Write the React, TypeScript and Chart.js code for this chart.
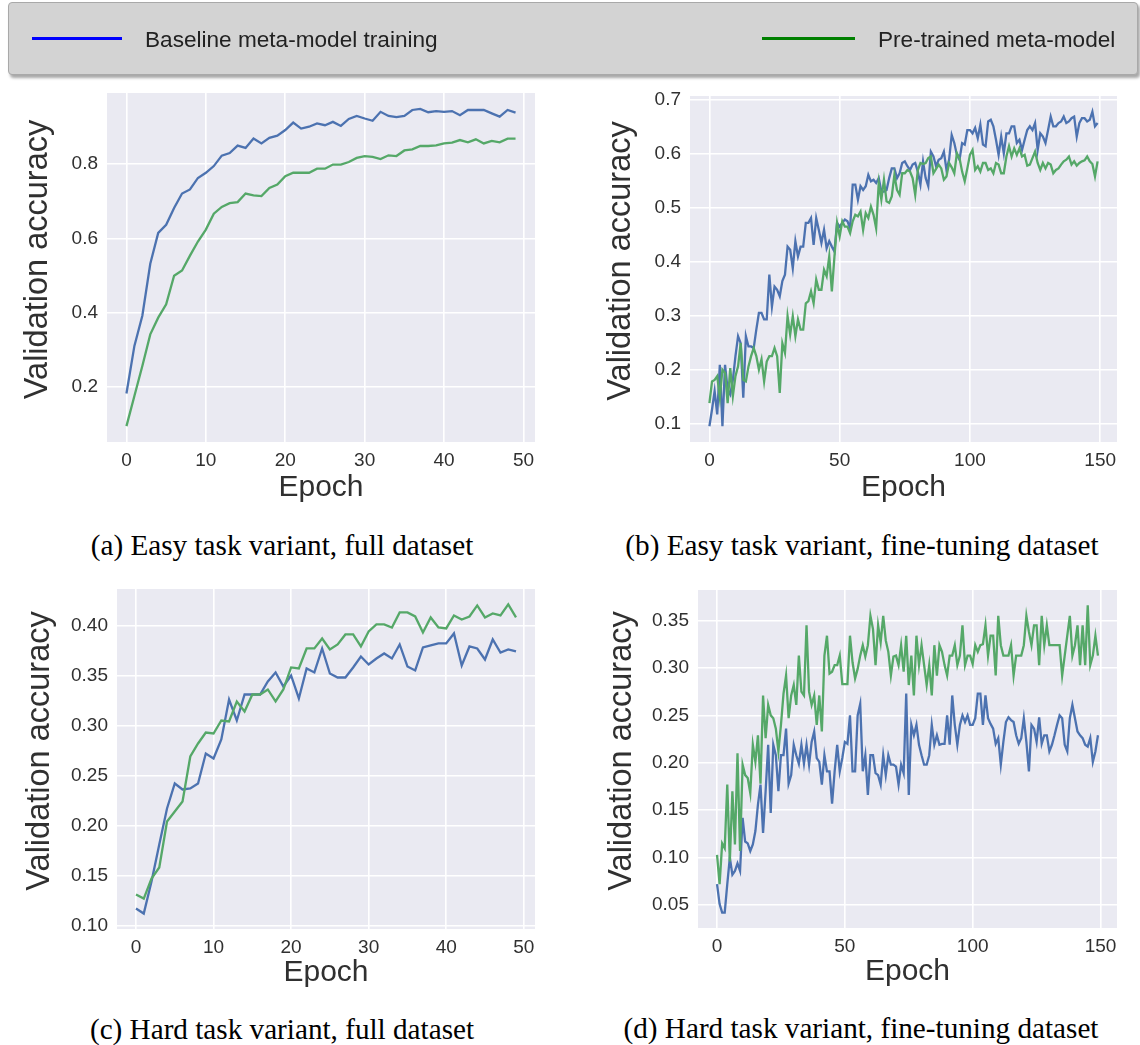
import React, { useEffect, useRef } from 'react';
import { Chart, registerables } from 'chart.js';

Chart.register(...registerables);

const FONT = "'Liberation Sans', Arial, Helvetica, sans-serif";
const SERIF = "'Liberation Serif', 'Times New Roman', serif";
const BLUE = '#4C72B0';
const GREEN = '#55A868';
const TEXT = '#303030';

// ---- data ----
const seriesLabels = ['Baseline meta-model training', 'Pre-trained meta-model'];
const xLabel = 'Epoch';
const yLabel = 'Validation accuracy';

const xTicksFull = [0, 10, 20, 30, 40, 50];
const xTicksFine = [0, 50, 100, 150];
const yTicksEasyFull = [0.2, 0.4, 0.6, 0.8];
const yTicksEasyFine = [0.1, 0.2, 0.3, 0.4, 0.5, 0.6, 0.7];
const yTicksHardFull = [0.1, 0.15, 0.2, 0.25, 0.3, 0.35, 0.4];
const yTicksHardFine = [0.05, 0.1, 0.15, 0.2, 0.25, 0.3, 0.35];

const easyFullBaseline = [0.183,0.311,0.392,0.532,0.615,0.637,0.682,0.721,0.732,0.763,0.777,0.795,0.823,0.830,0.850,0.844,0.869,0.856,0.871,0.877,0.892,0.912,0.896,0.901,0.910,0.905,0.914,0.903,0.922,0.930,0.923,0.917,0.941,0.930,0.927,0.930,0.946,0.949,0.940,0.943,0.941,0.943,0.932,0.946,0.946,0.946,0.937,0.928,0.946,0.939];
const easyFullPretrained = [0.095,0.176,0.257,0.342,0.387,0.423,0.500,0.514,0.554,0.592,0.624,0.667,0.685,0.695,0.698,0.721,0.716,0.714,0.736,0.745,0.768,0.777,0.777,0.777,0.788,0.788,0.799,0.799,0.806,0.817,0.822,0.820,0.814,0.824,0.822,0.837,0.840,0.849,0.849,0.851,0.856,0.858,0.865,0.859,0.867,0.856,0.863,0.859,0.869,0.869];

const easyFineBaseline = [
  0.095,0.126,0.160,0.117,0.209,0.095,0.209,0.163,0.154,0.181,
  0.225,0.262,0.249,0.148,0.262,0.243,0.243,0.240,0.274,0.305,
  0.305,0.293,0.293,0.376,0.317,0.354,0.348,0.336,0.364,0.376,
  0.428,0.422,0.388,0.438,0.410,0.428,0.428,0.472,0.472,0.481,
  0.431,0.481,0.459,0.435,0.459,0.425,0.438,0.428,0.419,0.472,
  0.465,0.472,0.478,0.475,0.462,0.543,0.543,0.515,0.540,0.533,
  0.540,0.561,0.549,0.552,0.546,0.555,0.530,0.530,0.533,0.555,
  0.573,0.573,0.555,0.564,0.583,0.586,0.577,0.570,0.580,0.583,
  0.567,0.543,0.586,0.555,0.540,0.604,0.595,0.577,0.589,0.592,
  0.604,0.570,0.589,0.635,0.620,0.598,0.589,0.620,0.617,0.644,
  0.644,0.638,0.648,0.629,0.654,0.617,0.614,0.660,0.663,0.651,
  0.626,0.598,0.632,0.601,0.638,0.638,0.651,0.651,0.620,0.626,
  0.607,0.626,0.644,0.651,0.644,0.657,0.607,0.638,0.632,0.620,
  0.644,0.669,0.651,0.651,0.657,0.660,0.669,0.657,0.660,0.666,
  0.669,0.632,0.657,0.666,0.666,0.660,0.663,0.678,0.651,0.657,
];
const easyFinePretrained = [
  0.138,0.178,0.181,0.188,0.148,0.200,0.194,0.138,0.203,0.151,
  0.188,0.206,0.249,0.181,0.178,0.206,0.225,0.240,0.225,0.200,
  0.219,0.178,0.215,0.225,0.225,0.240,0.225,0.157,0.249,0.231,
  0.299,0.265,0.299,0.262,0.293,0.274,0.274,0.323,0.327,0.345,
  0.323,0.367,0.348,0.348,0.385,0.373,0.410,0.345,0.410,0.472,
  0.447,0.475,0.465,0.465,0.453,0.475,0.487,0.484,0.493,0.459,
  0.490,0.481,0.502,0.487,0.462,0.546,0.515,0.552,0.512,0.509,
  0.521,0.561,0.533,0.524,0.564,0.564,0.570,0.567,0.555,0.524,
  0.570,0.583,0.581,0.583,0.592,0.595,0.564,0.572,0.580,0.573,
  0.552,0.558,0.583,0.575,0.564,0.601,0.592,0.567,0.549,0.573,
  0.598,0.607,0.570,0.577,0.567,0.583,0.583,0.570,0.573,0.564,
  0.583,0.580,0.564,0.564,0.595,0.614,0.595,0.610,0.598,0.610,
  0.595,0.598,0.578,0.580,0.592,0.604,0.583,0.570,0.583,0.573,
  0.583,0.580,0.564,0.570,0.573,0.580,0.586,0.589,0.595,0.580,
  0.586,0.578,0.583,0.586,0.588,0.595,0.586,0.581,0.558,0.586,
];

const hardFullBaseline = [0.117,0.112,0.144,0.181,0.217,0.242,0.236,0.237,0.242,0.272,0.267,0.286,0.326,0.305,0.331,0.331,0.331,0.344,0.353,0.339,0.350,0.327,0.357,0.353,0.377,0.352,0.348,0.348,0.358,0.369,0.361,0.367,0.372,0.367,0.381,0.359,0.355,0.378,0.380,0.382,0.382,0.392,0.360,0.379,0.377,0.366,0.386,0.373,0.376,0.374];
const hardFullPretrained = [0.131,0.127,0.147,0.158,0.204,0.214,0.224,0.269,0.282,0.293,0.292,0.305,0.304,0.324,0.314,0.331,0.331,0.336,0.324,0.336,0.358,0.357,0.377,0.377,0.387,0.376,0.381,0.391,0.391,0.379,0.394,0.401,0.401,0.398,0.413,0.413,0.409,0.393,0.408,0.398,0.397,0.410,0.406,0.409,0.420,0.408,0.412,0.410,0.421,0.408];

const hardFineBaseline = [
  0.072,0.051,0.042,0.042,0.072,0.100,0.082,0.086,0.094,0.086,
  0.142,0.117,0.115,0.107,0.114,0.128,0.156,0.177,0.126,0.170,
  0.219,0.147,0.219,0.208,0.170,0.208,0.208,0.236,0.178,0.187,
  0.219,0.208,0.199,0.219,0.199,0.219,0.198,0.222,0.233,0.205,
  0.201,0.177,0.208,0.191,0.191,0.157,0.191,0.219,0.191,0.205,
  0.222,0.220,0.250,0.191,0.191,0.250,0.262,0.191,0.208,0.166,
  0.208,0.208,0.189,0.187,0.177,0.208,0.187,0.208,0.198,0.198,
  0.196,0.177,0.198,0.189,0.273,0.166,0.240,0.229,0.240,0.219,
  0.208,0.198,0.198,0.208,0.240,0.219,0.229,0.219,0.220,0.220,
  0.250,0.219,0.271,0.240,0.219,0.240,0.250,0.243,0.250,0.240,
  0.240,0.247,0.273,0.273,0.240,0.271,0.247,0.241,0.236,0.220,
  0.226,0.198,0.222,0.243,0.248,0.245,0.243,0.229,0.220,0.226,
  0.247,0.222,0.191,0.240,0.236,0.222,0.248,0.220,0.229,0.229,
  0.212,0.219,0.229,0.240,0.250,0.247,0.219,0.212,0.247,0.261,
  0.247,0.233,0.229,0.226,0.219,0.217,0.226,0.201,0.212,0.229,
];
const hardFinePretrained = [
  0.103,0.072,0.115,0.110,0.177,0.096,0.170,0.114,0.210,0.107,
  0.198,0.187,0.184,0.168,0.219,0.201,0.229,0.178,0.271,0.226,
  0.261,0.250,0.247,0.236,0.212,0.240,0.273,0.292,0.247,0.271,
  0.282,0.261,0.313,0.275,0.271,0.345,0.275,0.261,0.271,0.240,
  0.271,0.233,0.313,0.334,0.294,0.296,0.303,0.303,0.313,0.283,
  0.283,0.283,0.334,0.306,0.289,0.299,0.313,0.324,0.312,0.324,
  0.355,0.341,0.303,0.345,0.327,0.355,0.329,0.317,0.292,0.312,
  0.313,0.303,0.324,0.296,0.334,0.282,0.313,0.271,0.334,0.303,
  0.324,0.303,0.282,0.303,0.271,0.324,0.292,0.324,0.317,0.303,
  0.292,0.313,0.313,0.324,0.303,0.313,0.345,0.303,0.313,0.313,
  0.304,0.324,0.317,0.324,0.325,0.345,0.313,0.334,0.334,0.292,
  0.355,0.324,0.313,0.313,0.313,0.324,0.292,0.313,0.313,0.313,
  0.324,0.355,0.338,0.324,0.345,0.345,0.303,0.355,0.324,0.345,
  0.324,0.324,0.324,0.324,0.324,0.292,0.313,0.334,0.355,0.313,
  0.324,0.345,0.303,0.345,0.303,0.366,0.303,0.313,0.334,0.313,
];

const captions = [
  '(a) Easy task variant, full dataset',
  '(b) Easy task variant, fine-tuning dataset',
  '(c) Hard task variant, full dataset',
  '(d) Hard task variant, fine-tuning dataset',
];

// ---- layout (page pixels) ----
type PanelSpec = {
  base: number[]; pre: number[]; xTicks: number[]; yTicks: number[]; yDigits: number;
  left: number; width: number; bottom: number;
  plotLeft: number; plotTop: number; plotRight: number; plotBottom: number;
  yTitleX: number; xTitleY: number; caption: string; capX: number; capY: number;
};

const panels: PanelSpec[] = [
  { base: easyFullBaseline, pre: easyFullPretrained, xTicks: xTicksFull, yTicks: yTicksEasyFull, yDigits: 1,
    left: 0, width: 560, bottom: 510, plotLeft: 107, plotTop: 93, plotRight: 535, plotBottom: 442,
    yTitleX: 38, xTitleY: 488, caption: captions[0], capX: 282, capY: 545 },
  { base: easyFineBaseline, pre: easyFinePretrained, xTicks: xTicksFine, yTicks: yTicksEasyFine, yDigits: 1,
    left: 580, width: 560, bottom: 510, plotLeft: 690, plotTop: 96, plotRight: 1117, plotBottom: 442,
    yTitleX: 621, xTitleY: 488, caption: captions[1], capX: 862, capY: 545 },
  { base: hardFullBaseline, pre: hardFullPretrained, xTicks: xTicksFull, yTicks: yTicksHardFull, yDigits: 2,
    left: 0, width: 560, bottom: 1000, plotLeft: 117, plotTop: 589, plotRight: 535, plotBottom: 929,
    yTitleX: 40, xTitleY: 973, caption: captions[2], capX: 282, capY: 1029 },
  { base: hardFineBaseline, pre: hardFinePretrained, xTicks: xTicksFine, yTicks: yTicksHardFine, yDigits: 2,
    left: 580, width: 560, bottom: 1000, plotLeft: 698, plotTop: 590, plotRight: 1117, plotBottom: 928,
    yTitleX: 622, xTitleY: 972, caption: captions[3], capX: 861, capY: 1028 },
];

const bgPlugin = {
  id: 'plotBg',
  beforeDraw(chart: any) {
    const { ctx, chartArea } = chart;
    if (!chartArea) return;
    ctx.save();
    ctx.fillStyle = '#EAEAF2';
    ctx.fillRect(chartArea.left, chartArea.top, chartArea.right - chartArea.left, chartArea.bottom - chartArea.top);
    ctx.restore();
  },
};

const TICK_SIZE = 19;
const XTITLE_SIZE = 30;
const YTITLE_SIZE = 32.5;
const YTITLE_SHIFT = -8;
const TOP_GAP = 30;

function Panel({ p }: { p: PanelSpec }) {
  const ref = useRef<HTMLCanvasElement>(null);
  const top = p.plotTop - TOP_GAP;
  const height = p.bottom - top;
  useEffect(() => {
    if (!ref.current) return;
    const n = p.base.length;
    const all = [...p.base, ...p.pre];
    const lo = Math.min(...all);
    const hi = Math.max(...all);
    const ym = (hi - lo) * 0.05;
    const xm = (n - 1) * 0.05;
    const padRight = p.left + p.width - p.plotRight;
    const yWidth = p.plotLeft - p.left;
    const xHeight = p.bottom - p.plotBottom;
    const xTitlePad = p.bottom - p.xTitleY - XTITLE_SIZE / 2;

    const yTitlePlugin = {
      id: 'yTitle',
      afterDraw(chart: any) {
        const { ctx, chartArea } = chart;
        ctx.save();
        ctx.translate(p.yTitleX - p.left, (chartArea.top + chartArea.bottom) / 2 + YTITLE_SHIFT);
        ctx.rotate(-Math.PI / 2);
        ctx.font = `${YTITLE_SIZE}px ${FONT}`;
        ctx.fillStyle = TEXT;
        ctx.textAlign = 'center';
        ctx.textBaseline = 'middle';
        ctx.fillText(yLabel, 0, 0);
        ctx.restore();
      },
    };

    const chart = new Chart(ref.current, {
      type: 'line',
      data: {
        datasets: [
          { label: seriesLabels[0], data: p.base.map((v, i) => ({ x: i, y: v })), borderColor: BLUE,
            backgroundColor: BLUE, borderWidth: 2.3, pointRadius: 0, tension: 0, order: 1, fill: false },
          { label: seriesLabels[1], data: p.pre.map((v, i) => ({ x: i, y: v })), borderColor: GREEN,
            backgroundColor: GREEN, borderWidth: 2.3, pointRadius: 0, tension: 0, order: 0, fill: false },
        ],
      },
      options: {
        animation: false,
        responsive: false,
        events: [],
        layout: { padding: { top: TOP_GAP, right: padRight, left: 0, bottom: 0 } },
        plugins: { legend: { display: false }, tooltip: { enabled: false } },
        scales: {
          x: {
            type: 'linear', min: -xm, max: n - 1 + xm,
            afterBuildTicks: (s: any) => { s.ticks = p.xTicks.map((v) => ({ value: v })); },
            afterFit: (s: any) => { s.height = xHeight; },
            grid: { color: '#ffffff', lineWidth: 1.6, drawTicks: false },
            border: { display: false },
            ticks: { padding: 7, autoSkip: false, maxRotation: 0, color: TEXT,
              font: { family: FONT, size: TICK_SIZE }, callback: (v: any) => String(v) },
            title: { display: true, text: xLabel, color: TEXT,
              font: { family: FONT, size: XTITLE_SIZE, lineHeight: 1 }, padding: { top: 0, bottom: xTitlePad } },
          },
          y: {
            type: 'linear', min: lo - ym, max: hi + ym,
            afterBuildTicks: (s: any) => { s.ticks = p.yTicks.map((v) => ({ value: v })); },
            afterFit: (s: any) => { s.width = yWidth; },
            grid: { color: '#ffffff', lineWidth: 1.6, drawTicks: false },
            border: { display: false },
            ticks: { padding: 9, autoSkip: false, color: TEXT,
              font: { family: FONT, size: TICK_SIZE }, callback: (v: any) => Number(v).toFixed(p.yDigits) },
            title: { display: false },
          },
        },
      },
      plugins: [bgPlugin, yTitlePlugin],
    } as any);
    return () => chart.destroy();
  }, [p]);
  return (
    <canvas ref={ref} width={p.width} height={height}
      style={{ position: 'absolute', left: p.left, top, width: p.width, height }} />
  );
}

export default function App() {
  return (
    <div style={{ position: 'absolute', left: 0, top: 0, width: 1140, height: 1045, background: '#ffffff', overflow: 'hidden' }}>
      {panels.map((p, i) => (
        <React.Fragment key={i}>
          <Panel p={p} />
          <div style={{ position: 'absolute', left: p.capX - 280, top: p.capY - 18, width: 560, height: 36,
            lineHeight: '36px', textAlign: 'center', fontFamily: SERIF, fontSize: 29.2, color: '#000', whiteSpace: 'nowrap' }}>
            {p.caption}
          </div>
        </React.Fragment>
      ))}
      <div style={{ position: 'absolute', left: 8, top: 2, width: 1128, height: 71, background: '#d3d3d3',
        border: '1px solid #a9a9a9', borderRadius: 4, boxShadow: '2px 3px 3px rgba(0,0,0,0.35)' }} />
      <div style={{ position: 'absolute', left: 32, top: 37, width: 90, height: 3, background: '#0000ff' }} />
      <div style={{ position: 'absolute', left: 145, top: 24, height: 32, lineHeight: '32px', fontFamily: FONT,
        fontSize: 22.6, color: '#222', whiteSpace: 'nowrap' }}>{seriesLabels[0]}</div>
      <div style={{ position: 'absolute', left: 762, top: 37, width: 93, height: 3, background: '#008000' }} />
      <div style={{ position: 'absolute', left: 878, top: 24, height: 32, lineHeight: '32px', fontFamily: FONT,
        fontSize: 22.6, color: '#222', whiteSpace: 'nowrap' }}>{seriesLabels[1]}</div>
    </div>
  );
}
